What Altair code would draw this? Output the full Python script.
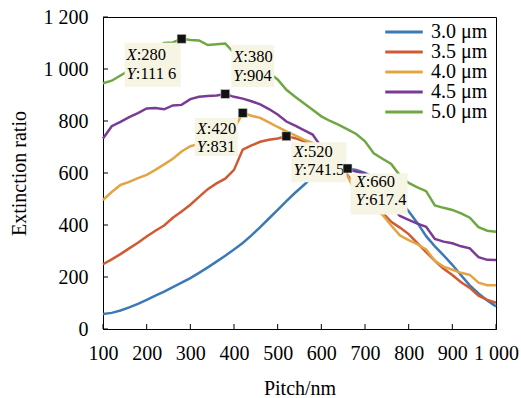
import altair as alt
import pandas as pd

# ---------------- data ----------------
pitch = [100, 120, 140, 160, 180, 200, 220, 240, 260, 280, 300, 320, 340, 360, 380,
         400, 420, 440, 460, 480, 500, 520, 540, 560, 580, 600, 620, 640, 660, 680,
         700, 720, 740, 760, 780, 800, 820, 840, 860, 880, 900, 920, 940, 960, 980, 1000]

s30 = [58, 62, 71, 83, 97, 112, 128, 144, 161, 178, 196, 216, 237, 259, 282,
       306, 331, 360, 392, 425, 458, 492, 524, 554, 585, 598, 605, 612, 617.4, 612,
       600, 583, 558, 528, 493, 453, 408, 357, 318, 283, 247, 207, 168, 137, 110, 87]
s35 = [249, 268, 288, 310, 332, 356, 378, 398, 428, 452, 478, 508, 538, 560, 578,
       612, 690, 706, 720, 728, 733, 741.5, 734, 722, 705, 682, 652, 622, 592, 548,
       510, 478, 448, 412, 390, 365, 330, 296, 262, 232, 208, 180, 158, 128, 112, 101]
s40 = [496, 527, 554, 566, 580, 593, 612, 633, 655, 683, 703, 712, 716, 720, 728,
       768, 831, 820, 812, 795, 777, 760, 745, 728, 716, 690, 658, 622, 588, 520,
       482, 462, 440, 398, 360, 342, 326, 306, 262, 240, 228, 216, 208, 178, 168, 168]
s45 = [733, 780, 797, 815, 830, 848, 850, 845, 860, 862, 884, 893, 896, 898, 904,
       893, 886, 876, 864, 846, 825, 798, 782, 765, 748, 700, 668, 640, 614, 606,
       598, 560, 512, 470, 435, 420, 405, 393, 346, 336, 330, 318, 310, 276, 266, 265]
s50 = [945, 955, 975, 995, 1020, 1048, 1080, 1100, 1102, 1116, 1112, 1110, 1092, 1095, 1098,
       1062, 1030, 1005, 992, 985, 960, 920, 893, 868, 843, 818, 800, 785, 768, 750,
       722, 676, 655, 635, 590, 562, 545, 530, 475, 466, 458, 445, 428, 392, 378, 374]

series_names = ["3.0 μm", "3.5 μm", "4.0 μm", "4.5 μm", "5.0 μm"]
series_vals = [s30, s35, s40, s45, s50]
series_colors = ["#3C79B7", "#D05A33", "#E3A544", "#7A3B96", "#6FA843"]

ann_x = [280, 380, 420, 520, 660]
ann_y = [1116, 904, 831, 741.5, 617.4]
ann_xtxt = [":280", ":380", ":420", ":520", ":660"]
ann_ytxt = [":111 6", ":904", ":831", ":741.5", ":617.4"]

x_ticks = [100, 200, 300, 400, 500, 600, 700, 800, 900, 1000]
y_ticks = [0, 200, 400, 600, 800, 1000, 1200]

# ---------------- styling (offsets in px, relative to marker) ----------------
box_off = [(-57, -1, 4, 48), (6, 49, -49, -7), (-48, -5, 5, 43), (5, 60, 6, 46), (3, 60, 5, 46)]
txt_off = [(-55, 16, 35), (8, -37, -18), (-46, 16, 34), (7, 16, 34), (8, 14, 32)]

FONT = "Liberation Serif"
W, H = 393, 312

rows = []
for name, vals in zip(series_names, series_vals):
    assert len(vals) == len(pitch)
    for p, v in zip(pitch, vals):
        rows.append({"pitch": p, "value": v, "series": name})
df = pd.DataFrame(rows)

xscale = alt.Scale(domain=[100, 1000], nice=False, zero=False)
yscale = alt.Scale(domain=[0, 1200], nice=False)
lab_expr = "replace(format(datum.value, ','), ',', ' ')"

x_axis = alt.Axis(values=x_ticks, title="Pitch/nm", labelExpr=lab_expr,
                  ticks=False, tickSize=0, grid=False, labelPadding=14, titlePadding=15,
                  labelFont=FONT, titleFont=FONT, labelFontSize=20, titleFontSize=20,
                  labelColor="black", titleColor="black", titleFontWeight="normal",
                  domainColor="black", labelFlush=False, labelOverlap=False)
y_axis = alt.Axis(values=y_ticks, title="Extinction ratio", labelExpr=lab_expr,
                  ticks=False, tickSize=0, grid=False, labelPadding=15, titlePadding=14,
                  labelFont=FONT, titleFont=FONT, labelFontSize=20, titleFontSize=20,
                  labelColor="black", titleColor="black", titleFontWeight="normal",
                  domainColor="black", labelFlush=False, labelOverlap=False)

X = lambda f: alt.X(f, scale=xscale, axis=x_axis, title="Pitch/nm")
Y = lambda f: alt.Y(f, scale=yscale, axis=y_axis, title="Extinction ratio")

lines = alt.Chart(df).mark_line(strokeWidth=2.5).encode(
    x=X("pitch:Q"),
    y=Y("value:Q"),
    color=alt.Color("series:N",
                    scale=alt.Scale(domain=series_names, range=series_colors),
                    legend=alt.Legend(orient="none", legendX=291, legendY=5, title=None,
                                      symbolType="M-2.5,0L2.5,0", symbolSize=225,
                                      symbolStrokeWidth=3, labelFont=FONT,
                                      labelFontSize=20, labelOffset=17, rowPadding=-0.5,
                                      padding=0)),
)

xt_df = pd.DataFrame({"t": x_ticks})
yt_df = pd.DataFrame({"t": y_ticks})
xt = alt.Chart(xt_df).mark_rule(color="black", strokeWidth=1).encode(
    x=X("t:Q"), y=alt.value(H), y2=alt.value(H - 5))
yt = alt.Chart(yt_df).mark_rule(color="black", strokeWidth=1).encode(
    y=Y("t:Q"), x=alt.value(0), x2=alt.value(5))

layers = [lines, xt, yt]
for i in range(len(ann_x)):
    a = pd.DataFrame({"x": [ann_x[i]], "y": [ann_y[i]], "xt": [ann_xtxt[i]], "yt": [ann_ytxt[i]]})
    bx1, bx2, by1, by2 = box_off[i]
    tx, ty1, ty2 = txt_off[i]
    base = alt.Chart(a)
    enc = dict(x=X("x:Q"), y=Y("y:Q"))
    box = base.mark_rect(color="#F6F4E3", xOffset=bx1, x2Offset=bx2, yOffset=by1, y2Offset=by2).encode(
        x2="x:Q", y2="y:Q", **enc)
    t1a = base.mark_text(text="X", font=FONT, fontStyle="italic", fontSize=16.5, align="left",
                         baseline="middle", dx=tx, dy=ty1, color="black").encode(**enc)
    t1b = base.mark_text(font=FONT, fontSize=16.5, align="left", baseline="middle",
                         dx=tx + 10.1, dy=ty1, color="black").encode(text="xt:N", **enc)
    t2a = base.mark_text(text="Y", font=FONT, fontStyle="italic", fontSize=16.5, align="left",
                         baseline="middle", dx=tx, dy=ty2, color="black").encode(**enc)
    t2b = base.mark_text(font=FONT, fontSize=16.5, align="left", baseline="middle",
                         dx=tx + 9.2, dy=ty2, color="black").encode(text="yt:N", **enc)
    mk = base.mark_square(size=81, color="#111111", opacity=1, stroke="#dddddd",
                          strokeWidth=0.6).encode(**enc)
    layers += [box, t1a, t1b, t2a, t2b, mk]

chart = alt.layer(*layers).properties(
    width=W, height=H,
    padding={"left": 103, "top": 17, "right": 25, "bottom": 69},
    autosize=alt.AutoSizeParams(type="none"),
    background="white",
).configure_view(stroke="black", strokeWidth=1)

chart.save("out.html", embed_options={"renderer": "svg", "actions": False})
